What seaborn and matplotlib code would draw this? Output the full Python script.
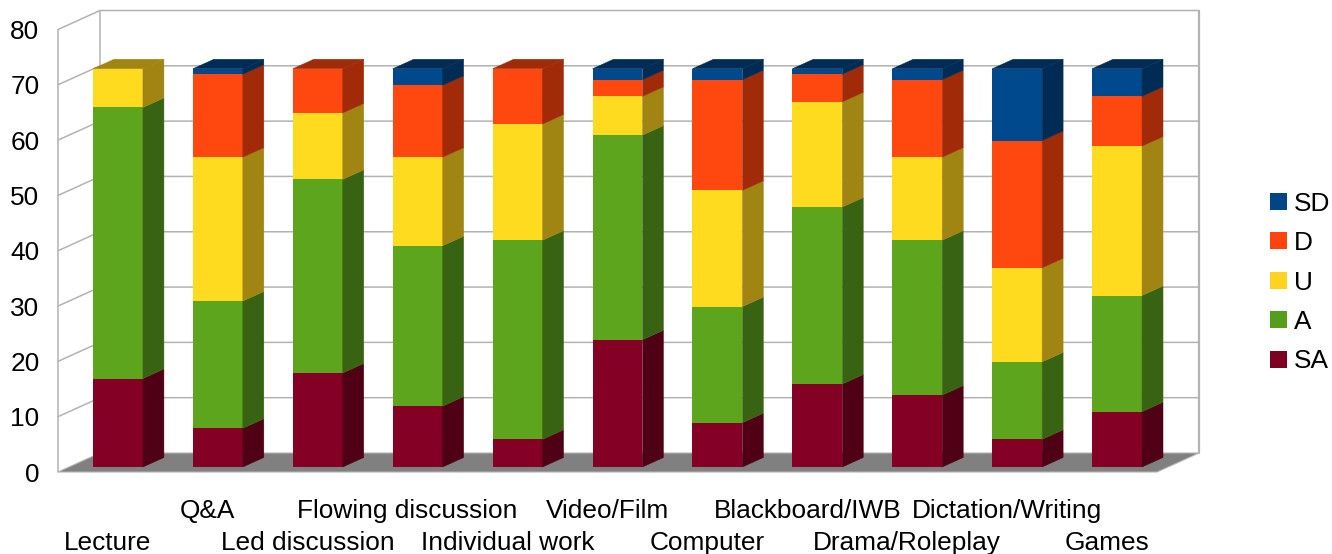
import matplotlib
matplotlib.use("Agg")
import matplotlib.pyplot as plt
from matplotlib.patches import Patch, Polygon
from matplotlib.transforms import Affine2D
import numpy as np
import pandas as pd
import seaborn as sns

categories = ["Lecture", "Q&A", "Led discussion", "Flowing discussion",
              "Individual work", "Video/Film", "Computer", "Blackboard/IWB",
              "Drama/Roleplay", "Dictation/Writing", "Games"]
SA = [16, 7, 17, 11, 5, 23, 8, 15, 13, 5, 10]
A = [49, 23, 35, 29, 36, 37, 21, 32, 28, 14, 21]
U = [7, 26, 12, 16, 21, 7, 21, 19, 15, 17, 27]
D = [0, 15, 8, 13, 10, 3, 20, 5, 14, 23, 9]
SD = [0, 1, 0, 3, 0, 2, 2, 1, 2, 13, 5]
y_ticks = [0, 10, 20, 30, 40, 50, 60, 70, 80]

series_names = ["SA", "A", "U", "D", "SD"]
series_values = [SA, A, U, D, SD]
key_colors = ["#7e0021", "#579d1c", "#ffd320", "#ff420e", "#004586"]
front_colors = ["#840024", "#5ea51e", "#ffdb20", "#ff480f", "#00498c"]
side_colors = ["#4f0015", "#376312", "#a18512", "#a12a09", "#002b54"]

W, H = 1332, 554
AX_L, AX_R, AX_T, AX_B = 58, 1157, 29.5, 472
px_x = (AX_R - AX_L) / 11
px_y = (AX_B - AX_T) / 80

# Oblique projection: depth of the chart box and of each bar, in data units
box_dx, box_dy = 42 / px_x, 19 / px_y
bar_dx, bar_dy = 21 / px_x, 9.5 / px_y
shift_x, shift_y = 10 / px_x, 5 / px_y
bar_width = 0.5
wall_color = "#b3b3b3"
font_size = 18.9

sns.set_theme(style="white")
plt.rcParams["font.family"] = ["Liberation Sans", "DejaVu Sans"]
plt.rcParams["text.color"] = "#000000"

fig = plt.figure(figsize=(W / 100, H / 100), dpi=100, facecolor="white")
ax = fig.add_axes([AX_L / W, 1 - AX_B / H, (AX_R - AX_L) / W, (AX_B - AX_T) / H])
ax.patch.set_visible(False)

df = pd.DataFrame(dict(zip(series_names, series_values)))
df.insert(0, "category", categories)

x0, x1 = -0.5, 10.5

# Floor and walls of the chart box
ax.add_patch(Polygon([(x0, 0), (x1, 0), (x1 + box_dx, box_dy), (x0 + box_dx, box_dy)],
                     closed=True, facecolor="#808080", edgecolor=wall_color,
                     linewidth=0.8, zorder=1, clip_on=False))
for v in y_ticks:
    if v > 0:
        ax.plot([x0, x0 + box_dx, x1 + box_dx], [v, v + box_dy, v + box_dy],
                color=wall_color, lw=1.1, zorder=1, clip_on=False,
                solid_joinstyle="miter")
ax.plot([x0, x0], [0, 80], color=wall_color, lw=1.1, zorder=1, clip_on=False)
ax.plot([x0 + box_dx] * 2, [box_dy, 80 + box_dy], color=wall_color, lw=1.1,
        zorder=1, clip_on=False)
ax.plot([x1 + box_dx] * 2, [box_dy, 80 + box_dy], color=wall_color, lw=1.6,
        zorder=1, clip_on=False)

# Front faces of the stacked columns
bottom = np.zeros(len(categories))
shift = Affine2D().translate(shift_x, shift_y) + ax.transData
for name, color, side in zip(series_names, front_colors, side_colors):
    before = len(ax.patches)
    sns.barplot(data=df, x="category", y=name, bottom=bottom, color=color,
                saturation=1, width=bar_width, errorbar=None, ax=ax,
                linewidth=0, zorder=3)
    for p in ax.patches[before:]:
        p.set_transform(shift)
        p.set_clip_on(False)

    # Side faces, a darker shade of the front
    for i, h in enumerate(df[name].to_numpy()):
        if h <= 0:
            continue
        xr = i + bar_width / 2 + shift_x
        y0 = bottom[i] + shift_y
        ax.add_patch(Polygon([(xr, y0), (xr + bar_dx, y0 + bar_dy),
                              (xr + bar_dx, y0 + h + bar_dy), (xr, y0 + h)],
                             closed=True, facecolor=side, edgecolor=side, lw=0.3,
                             zorder=3, clip_on=False))
    bottom = bottom + df[name].to_numpy()

# Top caps take the shade of the uppermost non-empty segment
stack = np.array(series_values)
for i in range(len(categories)):
    top_idx = np.nonzero(stack[:, i])[0][-1]
    side = side_colors[top_idx]
    xl = i - bar_width / 2 + shift_x
    xr = i + bar_width / 2 + shift_x
    yt = bottom[i] + shift_y
    ax.add_patch(Polygon([(xl, yt), (xr, yt), (xr + bar_dx, yt + bar_dy),
                          (xl + bar_dx, yt + bar_dy)],
                         closed=True, facecolor=side, edgecolor=side, lw=0.3,
                         zorder=3, clip_on=False))

ax.set_xlim(x0, x1)
ax.set_ylim(0, 80)
ax.set_xlabel("")
ax.set_ylabel("")
sns.despine(ax=ax, left=True, bottom=True)

ax.set_yticks(y_ticks)
ax.set_xticks(range(len(categories)))
ax.set_xticklabels(categories)
ax.tick_params(axis="x", length=0, labelsize=font_size, colors="#000000")
ax.tick_params(axis="y", length=0, pad=13.4, labelsize=font_size, colors="#000000")

# Labels alternate between two rows so the long names fit
for i, tick in enumerate(ax.xaxis.get_major_ticks()):
    tick.set_pad(42.3 if i % 2 == 0 else 19.3)

legend_handles = [Patch(facecolor=c, edgecolor="none") for c in key_colors[::-1]]
ax.legend(legend_handles, series_names[::-1], frameon=False, fontsize=font_size,
          loc="center left", bbox_to_anchor=(1270 / W, 1 - 282.5 / H),
          bbox_transform=fig.transFigure, borderaxespad=0, borderpad=0,
          handlelength=0.64, handleheight=0.64, handletextpad=0.27,
          labelspacing=0.59)

fig.savefig("out.png", dpi=100, facecolor="white")
